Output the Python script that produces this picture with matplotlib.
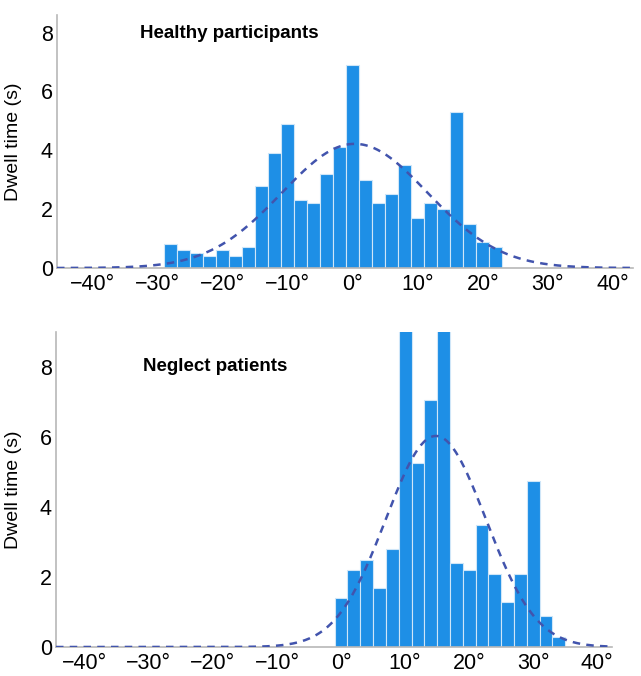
import numpy as np
from matplotlib import pyplot as plt
from matplotlib.ticker import FuncFormatter

plt.rcParams['font.family'] = ['Liberation Sans', 'DejaVu Sans']

# bin centres (degrees) and dwell times (s)
healthy_bins = np.arange(-28, 24, 2)
healthy_dwell = [0.8, 0.6, 0.5, 0.4, 0.6, 0.4, 0.7, 2.8, 3.9, 4.9, 2.3, 2.2, 3.2,
                 4.1, 6.9, 3.0, 2.2, 2.5, 3.5, 1.7, 2.2, 2.0, 5.3, 1.5, 0.9, 0.7]
healthy_fit = dict(mu=0.3, sd=11.2, peak=4.22)

neglect_bins = np.arange(0, 36, 2)
neglect_dwell = [1.4, 2.2, 2.5, 1.7, 2.8, 9.4, 5.25, 7.05, 9.3, 2.4, 2.2, 3.5,
                 2.1, 1.3, 2.1, 4.75, 0.9, 0.3]
neglect_fit = dict(mu=14.8, sd=7.8, peak=6.03)

xticks = [-40, -30, -20, -10, 0, 10, 20, 30, 40]
yticks = [0, 2, 4, 6, 8]

bar_col = '#1e8fe6'
line_col = '#4254ad'


def deg(v, pos):
    return ('\u2212' if v < 0 else '') + '%d\u00b0' % abs(v)


def panel(ax, bins, dwell, fit, title, xlim, ylim, tpos):
    ax.bar(bins, dwell, width=2, color=bar_col, edgecolor='#cfe6f8', linewidth=0.8, zorder=2)
    xs = np.linspace(xlim[0], xlim[1], 400)
    ys = fit['peak'] * np.exp(-(xs - fit['mu']) ** 2 / (2 * fit['sd'] ** 2))
    ax.plot(xs, ys, ls=(0, (3, 2.5)), color=line_col, lw=1.8, zorder=3)
    ax.set_xlim(xlim)
    ax.set_ylim(ylim)
    ax.set_xticks(xticks)
    ax.set_yticks(yticks)
    ax.xaxis.set_major_formatter(FuncFormatter(deg))
    ax.tick_params(length=0, labelsize=15.5, colors='black')
    ax.tick_params(axis='x', pad=4)
    ax.tick_params(axis='y', pad=3)
    for s in ['top', 'right']:
        ax.spines[s].set_visible(False)
    for s in ['left', 'bottom']:
        ax.spines[s].set_color('#b8b8b8')
        ax.spines[s].set_linewidth(1.2)
    ax.set_ylabel('Dwell time (s)', fontsize=14)
    ax.yaxis.set_label_coords(-0.061, 0.5)
    ax.text(tpos[0], tpos[1], title, transform=ax.transAxes, fontsize=13.5,
            fontweight='bold', va='center', ha='left')


fig = plt.figure(figsize=(6.41, 6.76), dpi=100)
ax1 = fig.add_axes([57 / 641, 1 - 268 / 676, 576 / 641, 253 / 676])
ax2 = fig.add_axes([56 / 641, 1 - 647 / 676, 556 / 641, 315 / 676])

panel(ax1, healthy_bins, healthy_dwell, healthy_fit, 'Healthy participants',
      (-45.5, 43.1), (0, 8.6), (0.144, 0.925))
panel(ax2, neglect_bins, neglect_dwell, neglect_fit, 'Neglect patients',
      (-44.5, 42.3), (0, 9.0), (0.156, 0.889))

fig.savefig('out.png', dpi=100)
